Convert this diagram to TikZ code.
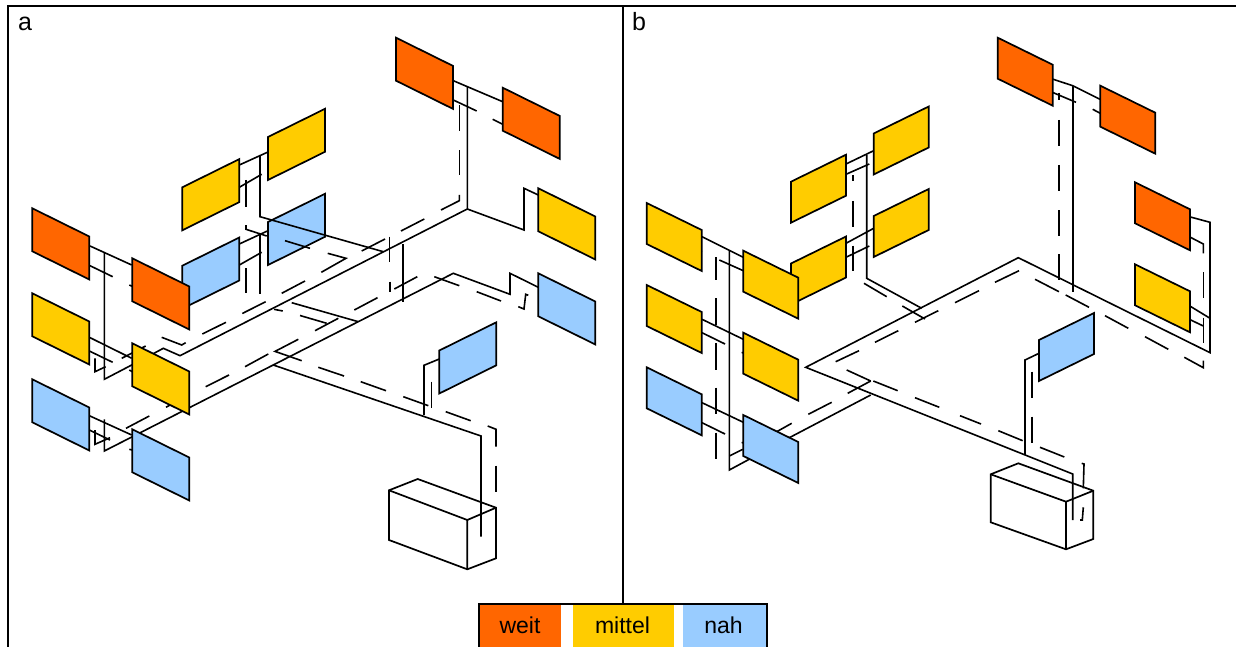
\documentclass[tikz,border=0pt]{standalone}
\usepackage{fontspec}
\setmainfont{Liberation Sans}
\definecolor{weit}{HTML}{FF6600}
\definecolor{mittel}{HTML}{FFCC00}
\definecolor{nah}{HTML}{99CCFF}
\tikzset{
  pipe/.style={line width=1.6pt,line join=miter,draw=black},
  boxedge/.style={line width=1.7pt,line join=miter,draw=black},
  frameline/.style={line width=2pt,draw=black},
  lbl/.style={anchor=base,inner sep=0pt,font=\fontsize{23}{27}\selectfont},
  panellbl/.style={anchor=base,inner sep=0pt,font=\fontsize{25}{29}\selectfont}
}
% down-slanted and up-slanted panels of panel a
\newcommand\downA[3]{\draw[boxedge,fill=#1] (#2,#3) -- ++(57,28.2) -- ++(0,43) -- ++(-57,-28.2) -- cycle;}
\newcommand\upA[3]{\draw[boxedge,fill=#1] (#2,#3) -- ++(57,-28.2) -- ++(0,43) -- ++(-57,28.2) -- cycle;}
\newcommand\downB[3]{\draw[boxedge,fill=#1] (#2,#3) -- ++(55,27) -- ++(0,41) -- ++(-55,-27) -- cycle;}
\newcommand\upB[3]{\draw[boxedge,fill=#1] (#2,#3) -- ++(55,-27) -- ++(0,41) -- ++(-55,27) -- cycle;}
\begin{document}
\begin{tikzpicture}[x=1pt,y=-1pt]
\useasboundingbox (0,0) rectangle (1236,647);
% frame
\draw[frameline] (8,647) -- (8,6) -- (1236,6);
\draw[frameline] (623,6) -- (623,604);
\node[panellbl] (la) at (25,31) {a};
\node[panellbl] (lb) at (639,31) {b};

% ---------------- panel a: boxes behind the pipes
\upA{mittel}{182.3}{187.3}
\upA{mittel}{268}{137}
\upA{nah}{182.3}{265.7}
\upA{nah}{268}{222}
\upA{nah}{439.3}{350.5}

% panel a solid pipes
\draw[pipe] (481,536.7) -- (481,436) -- (273.3,365);
\draw[pipe] (104.3,419.3) -- (104.3,451) -- (453.3,273.3) -- (510,294.3) -- (510,273.3) -- (538.3,287.3);
\draw[pipe] (90,246) -- (131.7,265);
\draw[pipe] (89.3,337.3) -- (131.7,358.3);
\draw[pipe] (89.3,415.7) -- (131.7,435);
\draw[pipe] (104.3,252.3) -- (104.3,379.3) -- (131.7,365) -- (154,353.3) -- (163.3,348.3) -- (180,355.7) -- (467.3,209) -- (467.3,86.7);
\draw[pipe] (453.3,80.7) -- (502.7,101.7);
\draw[pipe] (467.3,209) -- (524,230) -- (524,188.3) -- (538.3,195);
\draw[pipe] (260,155.7) -- (260,216.7) -- (383.3,251.7);
\draw[pipe] (260,233) -- (260,294.3);
\draw[pipe] (291.7,302.7) -- (358.3,321.7);
\draw[pipe] (402.7,244) -- (402.7,301.7);
\draw[pipe] (439.3,359) -- (424,365.3) -- (424,415);
\draw[pipe] (239.3,165) -- (268,152);
\draw[pipe] (239.3,187.3) -- (261.7,174.3);
\draw[pipe] (239.3,244) -- (268,230.7);
\draw[pipe] (239.3,265) -- (261.7,252.3);

% panel a dashed pipes
\draw[pipe] (246,180) -- (246,206.7);
\draw[pipe] (246,225) -- (246,229.3) -- (266.7,236);
\draw[pipe] (285,240.7) -- (310,248.3);
\draw[pipe] (246,268.3) -- (246,293.3);
\draw[pipe] (90,265.7) -- (112.7,276.7);
\draw[pipe] (129.3,285) -- (132.3,286.3);
\draw[pipe] (281.7,293.3) -- (305,281);
\draw[pipe] (242.3,313.5) -- (265.7,301.7);
\draw[pipe] (202.3,334) -- (226,322.3);
\draw[pipe] (161.7,337.3) -- (181.7,345) -- (185.7,342.7);
\draw[pipe] (274,309.3) -- (282.7,311);
\draw[pipe] (300,315.5) -- (326.7,323.3);
\draw[pipe] (315,330.7) -- (338.3,318.3);
\draw[pipe] (354.3,310) -- (377.5,297.7);
\draw[pipe] (394.3,289) -- (417.3,276.7);
\draw[pipe] (434.3,276.7) -- (459.3,285.7);
\draw[pipe] (476.7,291.7) -- (501,301);
\draw[pipe] (518.3,306.7) -- (524,309) -- (525.7,294.3) -- (528.3,295.3);
\draw[pipe] (298.3,339.3) -- (275,351.4) -- (301.7,360.7);
\draw[pipe] (245,366.7) -- (268.3,354);
\draw[pipe] (205.7,386.7) -- (229,375);
\draw[pipe] (166,407.3) -- (170,405);
\draw[pipe] (126,428.3) -- (149.3,416);
\draw[pipe] (95,358.3) -- (95,371.7) -- (105.7,366.7);
\draw[pipe] (89.3,351) -- (112.7,362.3);
\draw[pipe] (121.7,358.3) -- (145.7,346);
\draw[pipe] (129.3,370) -- (132.3,371.7);
\draw[pipe] (89.3,430) -- (110,440);
\draw[pipe] (95,430) -- (95,444.3) -- (110,437.7);
\draw[pipe] (129.3,449.3) -- (132.3,450);
\draw[pipe] (361.7,251) -- (385,239);
\draw[pipe] (401,231) -- (424.3,219);
\draw[pipe] (441,210) -- (459.3,200.7) -- (459.3,195);
\draw[pipe] (459.3,175) -- (459.3,150);
\draw[pipe] (459.3,131) -- (459.3,105);
\draw[pipe] (453.3,100) -- (476.7,111);
\draw[pipe] (492.7,119.3) -- (502.7,124.3);
\draw[pipe] (321.3,272.3) -- (346,258.3) -- (327.7,253.3);
\draw[pipe] (389.3,236.7) -- (389.3,261.7);
\draw[pipe] (390,281.7) -- (390,291.7);
\draw[pipe] (318.3,367.3) -- (344,376);
\draw[pipe] (360.7,381.7) -- (386,390.7);
\draw[pipe] (403.3,396.7) -- (428.3,405.7);
\draw[pipe] (445.7,411.7) -- (470.7,420.7);
\draw[pipe] (487.7,426) -- (496,429.3) -- (496,446.7);
\draw[pipe] (496,465.7) -- (496,491.7);
\draw[pipe] (431.3,381.7) -- (431.3,407.7);

% panel a front boxes
\downA{weit}{32.3}{208.3}
\downA{weit}{132.3}{258.3}
\downA{mittel}{32.3}{293.3}
\downA{mittel}{132.3}{343.3}
\downA{nah}{32.3}{379.3}
\downA{nah}{132.3}{429.3}
\downA{weit}{396}{37.7}
\downA{weit}{502.7}{87.7}
\downA{mittel}{538.3}{188.3}
\downA{nah}{538.3}{273.3}
% panel a tank
\draw[boxedge] (389,490.3) -- (417.7,479) -- (496,507.7) -- (496,558.3) -- (467.3,569.3) -- (389,540) -- cycle;
\draw[boxedge] (389,490.3) -- (467.3,520) -- (496,507.7) (467.3,520) -- (467.3,569.3);

% ---------------- panel b: boxes behind the pipes
\upB{mittel}{791}{181.7}
\upB{mittel}{873.7}{133.5}
\upB{mittel}{791}{263.5}
\upB{mittel}{873.7}{216}
\upB{nah}{1039}{340}

% panel b solid pipes
\draw[pipe] (702,236.7) -- (743.3,257.3);
\draw[pipe] (702,319.3) -- (743.3,339.3);
\draw[pipe] (702,402.7) -- (743.3,422.3);
\draw[pipe] (729.3,250.7) -- (729.3,470) -- (789.3,437.7) -- (870.7,395);
\draw[pipe] (846,164) -- (873.7,150.7);
\draw[pipe] (846,243.3) -- (873.7,228.3);
\draw[pipe] (866.7,155) -- (866.7,278.3) -- (921.7,308.3);
\draw[pipe] (1072.7,291.7) -- (1072.7,85.7);
\draw[pipe] (1052.3,79) -- (1072.7,85.7) -- (1100,99.3);
\draw[pipe] (1189.3,216.7) -- (1210,222.3) -- (1210,352.7) -- (1018.3,257.7) -- (805.7,367.3) -- (1072.7,474) -- (1072.7,520);
\draw[pipe] (1189.3,305.7) -- (1210,318.3);
\draw[pipe] (1025,455) -- (1025,360) -- (1039,353.3);

% panel b dashed pipes
\draw[pipe] (699.3,250.7) -- (702,251.7);
\draw[pipe] (719.3,260) -- (743.3,270.7);
\draw[pipe] (716,257.3) -- (716,280);
\draw[pipe] (716,298.3) -- (716,325);
\draw[pipe] (716,343.3) -- (716,370);
\draw[pipe] (716,387.7) -- (716,414.3);
\draw[pipe] (716,432.7) -- (716,459.3);
\draw[pipe] (729.3,456) -- (742.7,449.3);
\draw[pipe] (776.7,431.7) -- (791.7,423.3);
\draw[pipe] (808.3,414.3) -- (831.7,402.3);
\draw[pipe] (847.7,393.3) -- (870.7,381);
\draw[pipe] (702,332.7) -- (725,344);
\draw[pipe] (741.7,352.3) -- (743.3,353);
\draw[pipe] (702,422.7) -- (725,434);
\draw[pipe] (741.7,442.3) -- (743.3,443);
\draw[pipe] (846,174.3) -- (869.3,164);
\draw[pipe] (846,257.3) -- (869.3,246);
\draw[pipe] (853,175) -- (853,181);
\draw[pipe] (853,201) -- (853,226.7);
\draw[pipe] (853,245.7) -- (853,271);
\draw[pipe] (864,283.3) -- (886.7,296.7);
\draw[pipe] (902.3,306) -- (925,319);
\draw[pipe] (915,322.3) -- (938.3,310.7);
\draw[pipe] (955,302.7) -- (979,290.7);
\draw[pipe] (995,282.3) -- (1019,270.7);
\draw[pipe] (875,342.3) -- (898.3,330.7);
\draw[pipe] (835.7,361.7) -- (859,350.7);
\draw[pipe] (1035,279.3) -- (1059,291.7);
\draw[pipe] (1065.7,295) -- (1089,307.3);
\draw[pipe] (1105,315.7) -- (1128.3,328.3);
\draw[pipe] (1145,336.7) -- (1168.3,349.3);
\draw[pipe] (1184.3,357.3) -- (1203.3,367.7) -- (1203.3,360.7);
\draw[pipe] (1189.3,236.7) -- (1203.3,244) -- (1203.3,253.3);
\draw[pipe] (1203.3,272.3) -- (1203.3,298.3);
\draw[pipe] (1203.3,317.7) -- (1203.3,343.3);
\draw[pipe] (1189.3,319.3) -- (1203.3,326);
\draw[pipe] (1052.3,92.3) -- (1076,102.3);
\draw[pipe] (1092.7,109.3) -- (1100.3,113.3);
\draw[pipe] (1059,92.7) -- (1059,100);
\draw[pipe] (1059,120) -- (1059,146);
\draw[pipe] (1059,165) -- (1059,190.7);
\draw[pipe] (1059,210) -- (1059,235.7);
\draw[pipe] (1059,254.3) -- (1059,280);
\draw[pipe] (1031.7,371.7) -- (1031.7,398.3);
\draw[pipe] (1031.7,416.7) -- (1031.7,443.3);
\draw[pipe] (846.7,370) -- (870.7,381);
\draw[pipe] (873.3,381) -- (897.7,390.7);
\draw[pipe] (915,397.7) -- (939.3,407.3);
\draw[pipe] (960,415.7) -- (981,424);
\draw[pipe] (998.3,430.7) -- (1022.7,440.7);
\draw[pipe] (1040,447.3) -- (1064.3,457);
\draw[pipe] (1081.7,463.3) -- (1084,464) -- (1083.3,488.3);
\draw[pipe] (1083.3,507.3) -- (1082.3,520) -- (1080,520);

% panel b front boxes
\downB{mittel}{646.7}{203}
\downB{mittel}{743.3}{250.7}
\downB{mittel}{646.7}{285}
\downB{mittel}{743.3}{332.7}
\downB{nah}{646.7}{367.3}
\downB{nah}{743.3}{415}
\downB{weit}{997.7}{37.7}
\downB{weit}{1100.3}{85.7}
\downB{weit}{1135}{182.3}
\downB{mittel}{1135}{264.3}
% panel b tank
\draw[boxedge] (990.7,474.3) -- (1018.3,463.3) -- (1093.3,490.7) -- (1093.3,539) -- (1066,549.3) -- (990.7,522.3) -- cycle;
\draw[boxedge] (990.7,474.3) -- (1066,501.7) -- (1093.3,490.7) (1066,501.7) -- (1066,549.3);

% legend
\fill[white] (479,604) rectangle (767,647);
\fill[weit] (480,605) rectangle (561,647);
\fill[mittel] (573,605) rectangle (674,647);
\fill[nah] (683,605) rectangle (766,647);
\draw[frameline] (479,647) -- (479,604) -- (767,604) -- (767,647);
\node[lbl] (lw) at (520,633) {weit};
\node[lbl] (lm) at (622.5,633) {mittel};
\node[lbl] (ln) at (723.5,633) {nah};
\end{tikzpicture}
\end{document}
